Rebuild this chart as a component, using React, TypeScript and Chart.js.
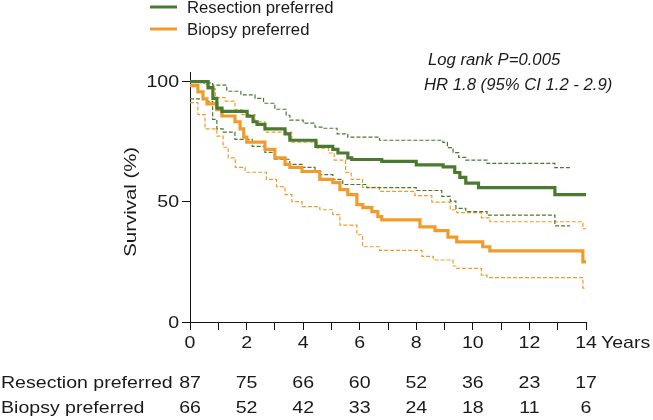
import React, { useEffect, useRef } from 'react';
import { Chart, registerables } from 'chart.js';

Chart.register(...registerables);

// ---- Data (years, survival %) ----
const resectionTime = [0, 0.64, 0.81, 0.95, 1.13, 2.02, 2.23, 2.37, 2.65, 3.36, 3.53, 4.45, 5.05, 5.23, 5.58, 5.72, 6.78, 8.0, 8.95, 9.36, 9.54, 9.75, 10.2, 12.9, 14.05];
const resectionSurvival = [100, 97.5, 93, 89, 87.6, 85.6, 83.3, 82.2, 80.3, 78.3, 75.6, 73.1, 71.8, 70.3, 68.3, 67.6, 66.8, 65.4, 64.5, 62.2, 60.2, 57.8, 55.9, 53, 53];

const resectionUpperTime = [0, 0.5, 0.8, 1.3, 1.8, 2.3, 2.6, 3.0, 3.4, 3.53, 4.0, 4.42, 4.7, 5.2, 5.58, 6.7, 8.94, 9.1, 9.3, 9.5, 9.75, 10.5, 12.9, 13.43];
const resectionUpperSurvival = [100, 99.5, 98.5, 96, 94.5, 93, 91, 88.5, 86, 84, 82.7, 81.1, 80.6, 78.3, 76.9, 75.6, 74.7, 72.5, 70.5, 68.5, 67.3, 66, 64.2, 64.2];

const resectionLowerTime = [0, 0.6, 0.8, 0.95, 1.17, 1.59, 2.2, 2.65, 3.0, 3.53, 3.96, 4.42, 4.59, 5.05, 5.4, 6.25, 8.0, 8.9, 9.2, 9.4, 9.75, 10.5, 12.9, 13.43];
const resectionLowerSurvival = [92.8, 91.8, 84.3, 80.3, 79, 76, 73.1, 70.6, 67.7, 65.6, 64.3, 62.6, 61.3, 59.3, 57.2, 55.9, 54.7, 52.3, 50.3, 47.3, 45.9, 44.5, 40, 40];

const biopsyTime = [0, 0.28, 0.46, 0.6, 0.95, 1.13, 1.59, 1.77, 1.9, 2.01, 2.65, 3.0, 3.36, 3.53, 3.96, 4.59, 5.05, 5.3, 5.58, 5.9, 6.11, 6.43, 6.64, 6.78, 8.13, 8.66, 9.12, 9.43, 10.35, 10.6, 13.89, 14.05];
const biopsySurvival = [98.3, 95.7, 92.8, 90.7, 88.3, 85.7, 83.3, 80.3, 76.9, 74.8, 71.8, 68.3, 65.6, 64.3, 62.6, 59.3, 58, 55.1, 53, 48.8, 47.6, 45.9, 43.8, 42.5, 39.6, 38, 35.3, 33.3, 31.3, 29.6, 25, 25];

const biopsyUpperTime = [0, 0.5, 0.6, 0.9, 1.24, 1.59, 1.84, 2.3, 2.65, 3.6, 4.5, 4.9, 5.1, 5.5, 5.7, 6.1, 6.7, 7.95, 8.55, 9.2, 9.43, 10.3, 10.6, 13.89, 14.05];
const biopsyUpperSurvival = [100, 99, 97, 93.3, 91.9, 88.3, 86.3, 83.3, 79, 74.8, 72.3, 70.3, 67.3, 62.3, 59.3, 56, 54.3, 52.6, 49.9, 46.7, 45.5, 43.3, 41.7, 38.8, 38.8];

const biopsyLowerTime = [0, 0.28, 0.53, 0.95, 1.17, 1.35, 1.6, 1.95, 2.7, 3.06, 3.36, 3.6, 3.96, 4.59, 5.05, 5.3, 5.9, 6.1, 6.7, 8.2, 8.6, 9.3, 9.43, 10.3, 10.5, 13.89, 14.05];
const biopsyLowerSurvival = [91.3, 86.3, 80.3, 77.3, 72.7, 68.3, 64.3, 62.3, 59.3, 56.3, 53, 50.1, 48, 46.7, 44.7, 40.3, 36.3, 31.3, 29.8, 27.3, 25.8, 23.3, 22.3, 19.5, 18.5, 14.1, 14.1];

const xTickLabels = [0, 2, 4, 6, 8, 10, 12, 14];
const yTicks = [0, 50, 100];
const riskYears = [0, 2, 4, 6, 8, 10, 12, 14];
const resectionAtRisk = [87, 75, 66, 60, 52, 36, 23, 17];
const biopsyAtRisk = [66, 52, 42, 33, 24, 18, 11, 6];

const groupNames = ['Resection preferred', 'Biopsy preferred'];
const annotationLines = ['Log rank P=0.005', 'HR 1.8 (95% CI 1.2 - 2.9)'];

const GREEN = '#4a7a30';
const ORANGE = '#f39b2a';
const TEXT = '#1a1a1a';
const FONT = '"Liberation Sans", Arial, Helvetica, sans-serif';
const AXIS_FONT = `17px ${FONT}`;
const AXIS_SX = 1.15;

const toPoints = (t: number[], s: number[]) => t.map((x, i) => ({ x, y: s[i] }));

function drawText(ctx: CanvasRenderingContext2D, text: string, x: number, y: number, align: CanvasTextAlign, sx: number, rot = 0) {
  ctx.save();
  ctx.translate(x, y);
  if (rot) ctx.rotate(rot);
  ctx.scale(sx, 1);
  ctx.textAlign = align;
  ctx.fillText(text, 0, 0);
  ctx.restore();
}

const textPlugin = {
  id: 'kmText',
  afterDraw(chart: any) {
    const ctx = chart.ctx as CanvasRenderingContext2D;
    const xs = chart.scales.x;
    const ys = chart.scales.y;
    ctx.save();
    ctx.fillStyle = TEXT;
    ctx.textBaseline = 'middle';

    // Legend
    const legendColors = [GREEN, ORANGE];
    const legendY = [7, 29];
    groupNames.forEach((name, i) => {
      ctx.strokeStyle = legendColors[i];
      ctx.lineWidth = 3;
      ctx.beginPath();
      ctx.moveTo(150, legendY[i]);
      ctx.lineTo(177, legendY[i]);
      ctx.stroke();
      ctx.font = `16.7px ${FONT}`;
      drawText(ctx, name, 187, legendY[i] + 1, 'left', 1);
    });

    // Annotation
    ctx.font = `italic 16.7px ${FONT}`;
    drawText(ctx, annotationLines[0], 428, 60, 'left', 1);
    drawText(ctx, annotationLines[1], 424, 85, 'left', 1);

    // Tick labels
    ctx.font = AXIS_FONT;
    yTicks.forEach((v) => drawText(ctx, String(v), 179, ys.getPixelForValue(v) + 1, 'right', AXIS_SX));
    xTickLabels.forEach((v) => drawText(ctx, String(v), xs.getPixelForValue(v), 343, 'center', AXIS_SX));

    // Axis titles
    drawText(ctx, 'Years', 601, 343, 'left', AXIS_SX);
    drawText(ctx, 'Survival (%)', 131, ys.getPixelForValue(50), 'center', 1.2, -Math.PI / 2);

    // Risk table
    const rows = [resectionAtRisk, biopsyAtRisk];
    const rowY = [383, 408];
    rows.forEach((vals, r) => {
      drawText(ctx, groupNames[r], 1, rowY[r], 'left', AXIS_SX);
      vals.forEach((v, i) => {
        drawText(ctx, String(v), xs.getPixelForValue(riskYears[i]), rowY[r], 'center', AXIS_SX);
      });
    });
    ctx.restore();
  },
};

export default function App() {
  const ref = useRef<HTMLCanvasElement | null>(null);
  useEffect(() => {
    if (!ref.current) return;
    const solid = (label: string, t: number[], s: number[], color: string) => ({
      label,
      data: toPoints(t, s),
      borderColor: color,
      borderWidth: 3.2,
      stepped: true,
      pointRadius: 0,
      fill: false,
    });
    const dashed = (label: string, t: number[], s: number[], color: string) => ({
      label,
      data: toPoints(t, s),
      borderColor: color,
      borderWidth: 1.2,
      borderDash: [4, 2],
      stepped: true,
      pointRadius: 0,
      fill: false,
    });
    const chart = new Chart(ref.current, {
      type: 'line',
      data: {
        datasets: [
          solid('Resection preferred', resectionTime, resectionSurvival, GREEN),
          solid('Biopsy preferred', biopsyTime, biopsySurvival, ORANGE),
          dashed('Resection upper CI', resectionUpperTime, resectionUpperSurvival, GREEN),
          dashed('Resection lower CI', resectionLowerTime, resectionLowerSurvival, GREEN),
          dashed('Biopsy upper CI', biopsyUpperTime, biopsyUpperSurvival, ORANGE),
          dashed('Biopsy lower CI', biopsyLowerTime, biopsyLowerSurvival, ORANGE),
        ] as any,
      },
      options: {
        animation: false,
        responsive: false,
        devicePixelRatio: 1,
        layout: { padding: { left: 0, right: 67, top: 72, bottom: 0 } },
        plugins: { legend: { display: false }, tooltip: { enabled: false }, title: { display: false } },
        scales: {
          x: {
            type: 'linear',
            min: 0,
            max: 14,
            afterFit: (s: any) => { s.height = 98; },
            border: { display: true, color: '#111', width: 1 },
            grid: { display: true, drawOnChartArea: false, drawTicks: true, tickLength: 8, color: '#111' },
            ticks: { stepSize: 1, autoSkip: false, maxRotation: 0, display: false },
          },
          y: {
            type: 'linear',
            min: 0,
            max: 104,
            afterFit: (s: any) => { s.width = 190; },
            afterBuildTicks: (s: any) => { s.ticks = yTicks.map((v) => ({ value: v })); },
            border: { display: true, color: '#111', width: 1 },
            grid: { display: true, drawOnChartArea: false, drawTicks: true, tickLength: 8, color: '#111' },
            ticks: { display: false },
          },
        },
      } as any,
      plugins: [textPlugin],
    });
    return () => chart.destroy();
  }, []);
  return (
    <div style={{ position: 'fixed', left: 0, top: 0, width: 653, height: 420, background: '#fff' }}>
      <canvas ref={ref} width={653} height={420} style={{ width: 653, height: 420, display: 'block' }} />
    </div>
  );
}
